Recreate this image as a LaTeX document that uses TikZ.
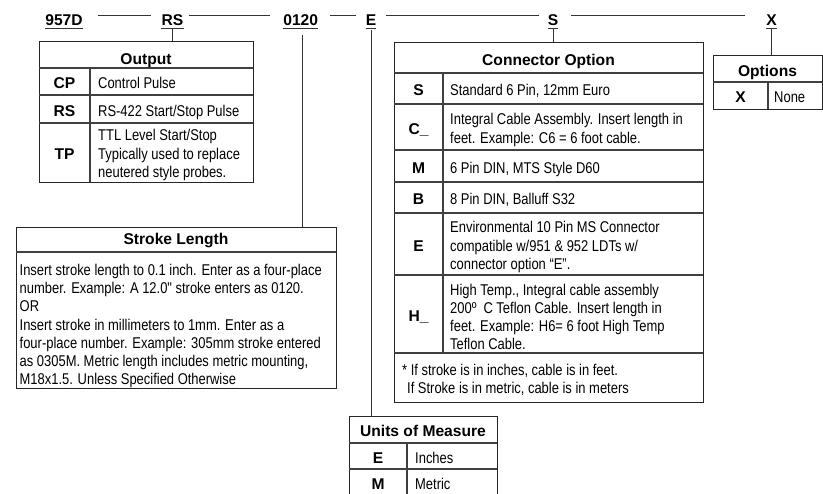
\documentclass[tikz,border=0pt]{standalone}
\usepackage{fontspec}
\newfontfamily\nr[FakeStretch=0.83]{Liberation Sans}
\newfontfamily\hv{Liberation Sans}
\newcommand\bodyf{\nr\fontsize{15.6}{18.2}\selectfont}
\newcommand\boldf{\hv\bfseries\fontsize{15.6}{18.2}\selectfont}
\begin{document}
\begin{tikzpicture}[x=1pt,y=-1pt,
 hdr/.style={font=\boldf, inner sep=0pt, text height=11pt, text depth=3pt, anchor=base},
 hline/.style={line width=1pt, draw=black!80},
 box/.style={draw=black!85, line width=1.2pt, inner sep=0pt, anchor=north west},
 rule/.style={draw=black!75, line width=1.1pt},
 ttl/.style={font=\boldf, inner sep=0pt, anchor=base},
 code/.style={font=\boldf, inner sep=0pt, text height=11.2pt, text depth=0pt},
 desc/.style={font=\bodyf, inner sep=0pt, anchor=west, text height=11.2pt, text depth=0pt},
 mdesc/.style={font=\bodyf, inner sep=0pt, anchor=west, align=left},
]
\useasboundingbox (0,0) rectangle (823,494);

% header
\node[hdr] (h957) at (64,25.5) {957D};
\node[hdr] (hRS) at (172.5,25.5) {RS};
\node[hdr] (h0120) at (300.7,25.5) {0120};
\node[hdr] (hE) at (371,25.5) {E};
\node[hdr] (hS) at (553,25.5) {S};
\node[hdr] (hX) at (771.5,25.5) {X};
\foreach \n in {h957,hRS,h0120,hE,hS,hX}
  \draw[hline] (\n.south west) -- (\n.south east);
\draw[hline] ([xshift=15pt,yshift=-1pt]h957.north east) -- ([xshift=-10pt,yshift=-1pt]hRS.north west);
\draw[hline] ([xshift=5pt,yshift=-1pt]hRS.north east) -- ([xshift=-13pt,yshift=-1pt]h0120.north west);
\draw[hline] ([xshift=12pt,yshift=-1pt]h0120.north east) -- ([xshift=-10pt,yshift=-1pt]hE.north west);
\draw[hline] ([xshift=10pt,yshift=-1pt]hE.north east) -- ([xshift=-9pt,yshift=-1pt]hS.north west);
\draw[hline] ([xshift=13pt,yshift=-1pt]hS.north east) -- ([xshift=-21pt,yshift=-1pt]hX.north west);

% Output table
\node[box, minimum width=214pt, minimum height=141pt] (outbox) at (39,41) {};
\draw[rule] (39,68) -- (253,68);
\draw[rule] (39,95) -- (253,95);
\draw[rule] (39,123) -- (253,123);
\draw[rule] (90,68) -- (90,182);
\node[ttl] (outT) at (146,64.5) {Output};
\node[code] (oCP) at (64.5,83) {CP};
\node[desc] (oCPd) at (98,83) {Control Pulse};
\node[code] (oRS) at (64.5,110.5) {RS};
\node[desc] (oRSd) at (98,110.5) {RS-422 Start/Stop Pulse};
\node[code] (oTP) at (64.5,154) {TP};
\node[mdesc] (oTPd) at (98,155) {TTL Level Start/Stop\\Typically used to replace\\neutered style probes.};

% Connector option table
\node[box, minimum width=309pt, minimum height=360pt] (connbox) at (394,42) {};
\foreach \y in {73,104,150,182,213,275,353}
  \draw[rule] (394,\y) -- (703,\y);
\draw[rule] (443,73) -- (443,353);
\node[ttl] (cT) at (548.5,66) {Connector Option};
\node[code] (cS) at (418.5,90) {S};
\node[desc] (cSd) at (450,90) {Standard 6 Pin, 12mm Euro};
\node[code] (cC) at (418.5,128.5) {C\_};
\node[mdesc] (cCd) at (450,130) {Integral Cable Assembly. Insert length in\\feet. Example: C6 = 6 foot cable.};
\node[code] (cM) at (418.5,167.5) {M};
\node[desc] (cMd) at (450,167.5) {6 Pin DIN, MTS Style D60};
\node[code] (cB) at (418.5,199) {B};
\node[desc] (cBd) at (450,199) {8 Pin DIN, Balluff S32};
\node[code] (cE) at (418.5,245.5) {E};
\node[mdesc] (cEd) at (450,247) {Environmental 10 Pin MS Connector\\compatible w/951 \& 952 LDTs w/\\connector option “E”.};
\node[code] (cH) at (418.5,315.5) {H\_};
\node[mdesc] (cHd) at (450,317) {High Temp., Integral cable assembly\\200º\hspace{7pt}C Teflon Cable. Insert length in\\feet. Example: H6= 6 foot High Temp\\Teflon Cable.};
\node[mdesc] (cF) at (402,380) {* If stroke is in inches, cable is in feet.\\\hspace*{5pt}If Stroke is in metric, cable is in meters};

% Options table
\node[box, minimum width=109pt, minimum height=54pt] (optbox) at (713,55) {};
\draw[rule] (713,82) -- (822,82);
\draw[rule] (768,82) -- (768,109);
\node[ttl] (pT) at (767.5,76.7) {Options};
\node[code] (pX) at (740.5,97) {X};
\node[desc] (pXd) at (774,97) {None};

% Stroke length
\node[box, minimum width=320pt, minimum height=161pt] (slbox) at (16,227) {};
\draw[rule] (16,252) -- (336,252);
\node[ttl] (sT) at (176,245) {Stroke Length};
\node[mdesc] (sD) at (19.5,326) {Insert stroke length to 0.1 inch. Enter as a four-place\\number. Example: A 12.0" stroke enters as 0120.\\OR\\Insert stroke in millimeters to 1mm. Enter as a\\four-place number. Example: 305mm stroke entered\\as 0305M. Metric length includes metric mounting,\\M18x1.5. Unless Specified Otherwise};

% Units of measure
\node[box, minimum width=148pt, minimum height=80pt] (unitbox) at (349,416) {};
\draw[rule] (349,443) -- (497,443);
\draw[rule] (349,469) -- (497,469);
\draw[rule] (407,443) -- (407,496);
\node[ttl] (uT) at (423,437) {Units of Measure};
\node[code] (uE) at (378,457.5) {E};
\node[desc] (uEd) at (415,457.5) {Inches};
\node[code] (uM) at (378,483.5) {M};
\node[desc] (uMd) at (415,483.5) {Metric};

% connectors
\draw[hline] (hRS.south) -- (hRS.south |- outbox.north);
\coordinate (c0120) at ([xshift=1.3pt,yshift=-6.5pt]h0120.south);
\draw[hline] (c0120) -- (c0120 |- slbox.north);
\draw[hline] ([yshift=-1.5pt]hE.south) -- (hE.south |- unitbox.north);
\draw[hline] (hS.south) -- (hS.south |- connbox.north);
\draw[hline] (hX.south) -- (hX.south |- optbox.north);
\end{tikzpicture}
\end{document}
